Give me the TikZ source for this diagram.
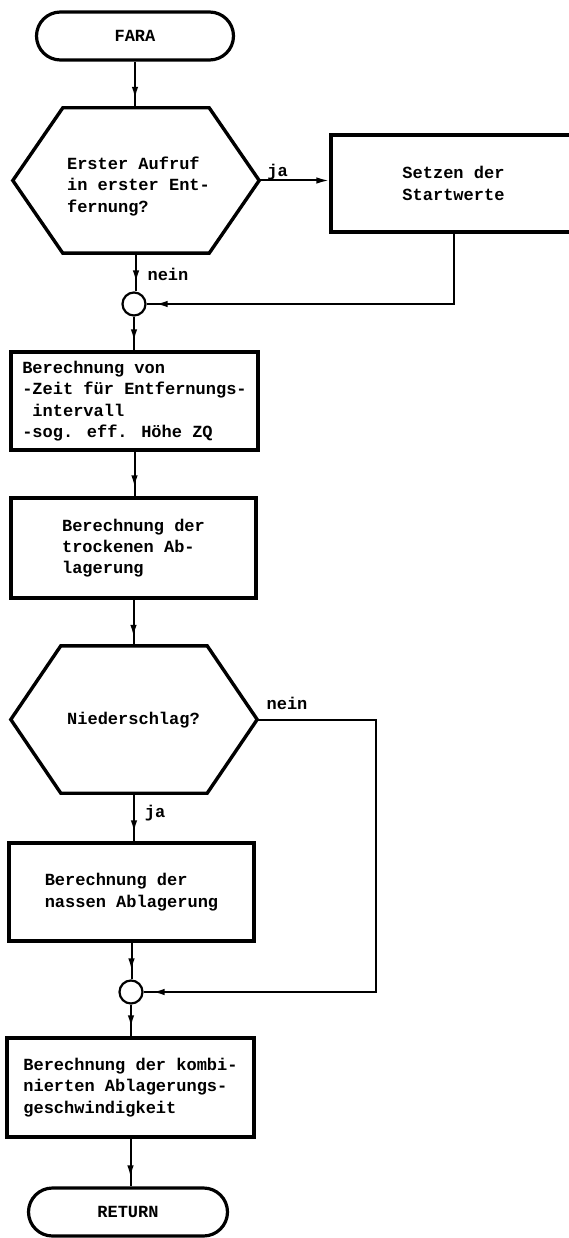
\documentclass[tikz,border=0pt]{standalone}
\usepackage{fontspec}
\newfontfamily\flowmono{Liberation Mono}
\usetikzlibrary{arrows.meta,decorations.markings}

\tikzset{
  every node/.style={font=\fontsize{17pt}{21.3pt}\selectfont\flowmono\bfseries},
  term/.style={draw, line width=3.2pt, rounded corners=24pt, minimum width=197pt,
    minimum height=48pt, inner sep=0pt},
  procbox/.style={draw, line width=3.4pt, minimum width=246pt, minimum height=98pt,
    inner sep=0pt, align=left},
  decbound/.style={minimum width=246pt, minimum height=145pt, inner sep=0pt},
  hexline/.style={line width=3.4pt},
  junction/.style={circle, draw, line width=2.2pt, minimum size=23pt, inner sep=0pt},
  flow/.style={line width=2pt, postaction={decorate},
    decoration={markings, mark=at position -9pt with {\arrow{Latex[length=12pt,width=6.5pt]}}}},
  flowend/.style={line width=2pt, -{Latex[length=13pt,width=6.5pt]}},
  lbl/.style={inner sep=0pt},
  txt/.style={inner sep=0pt, align=left},
}

\newcommand{\hexoutline}[1]{%
  \draw[hexline] (#1.west) -- ([xshift=50pt]#1.north west) -- ([xshift=-50pt]#1.north east)
    -- (#1.east) -- ([xshift=-50pt]#1.south east) -- ([xshift=50pt]#1.south west) -- cycle;}

\begin{document}
\begin{tikzpicture}[x=1pt, y=-1pt]
\useasboundingbox (0,0) rectangle (569,1238);

% start
\node[term] (fara) at (135,36) {FARA};

% first decision
\node[decbound] (hex1) at (136,180.5) {};
\hexoutline{hex1}
\node[txt] (hex1t) at (138.5,186.5) {Erster Aufruf\\in erster Ent-\\fernung?};

% initial values
\node[procbox, minimum width=245pt, minimum height=97pt] (setzen) at (453.5,183.5) {Setzen der\\Startwerte};

% first junction
\node[junction] (circ1) at (134,304) {};

% processing steps
\node[procbox, minimum width=247pt] (box1) at (134.5,401)
  {Berechnung von\\-Zeit f\"ur Entfernungs-\\\phantom{-}intervall\\-sog. eff. H\"ohe ZQ};
\node[procbox, minimum width=245pt, minimum height=100pt] (box2) at (133.5,548)
  {Berechnung der\\trockenen Ab-\\lagerung};

% second decision
\node[decbound, minimum height=147pt] (hex2) at (134,719.5) {};
\hexoutline{hex2}
\node[txt] (hex2t) at (133.5,720) {Niederschlag?};

\node[procbox, minimum width=245pt] (box3) at (131.5,892)
  {Berechnung der\\nassen Ablagerung};

% second junction
\node[junction] (circ2) at (131,992) {};

\node[procbox, minimum width=247pt, minimum height=99pt] (box4) at (130.5,1087.5)
  {Berechnung der kombi-\\nierten Ablagerungs-\\geschwindigkeit};

% end
\node[term, minimum width=199pt] (ret) at (128,1212) {RETURN};

\coordinate (bypass) at (376,850);

% connectors
\draw[flow] (fara.south) -- (fara.south |- hex1.north);
\draw[flowend] (hex1.east) -- (hex1.east -| setzen.west);
\draw[flow] (hex1.south) -- (hex1.south |- circ1.north);
\draw[flow] (setzen.south) |- (circ1.east);
\draw[flow] (circ1.south) -- (circ1.south |- box1.north);
\draw[flow] (box1.south) -- (box1.south |- box2.north);
\draw[flow] (box2.south) -- (box2.south |- hex2.north);
\draw[flow] (hex2.south) -- (hex2.south |- box3.north);
\draw[flow] (hex2.east) -| (bypass) |- (circ2.east);
\draw[flow] (box3.south) -- (box3.south |- circ2.north);
\draw[flow] (circ2.south) -- (circ2.south |- box4.north);
\draw[flow] (box4.south) -- (box4.south |- ret.north);

% branch labels
\node[lbl] (ja1) at (277.5,172) {ja};
\node[lbl] (nein1) at (168,274) {nein};
\node[lbl] (nein2) at (287,703) {nein};
\node[lbl] (ja2) at (155,813) {ja};
\end{tikzpicture}
\end{document}
